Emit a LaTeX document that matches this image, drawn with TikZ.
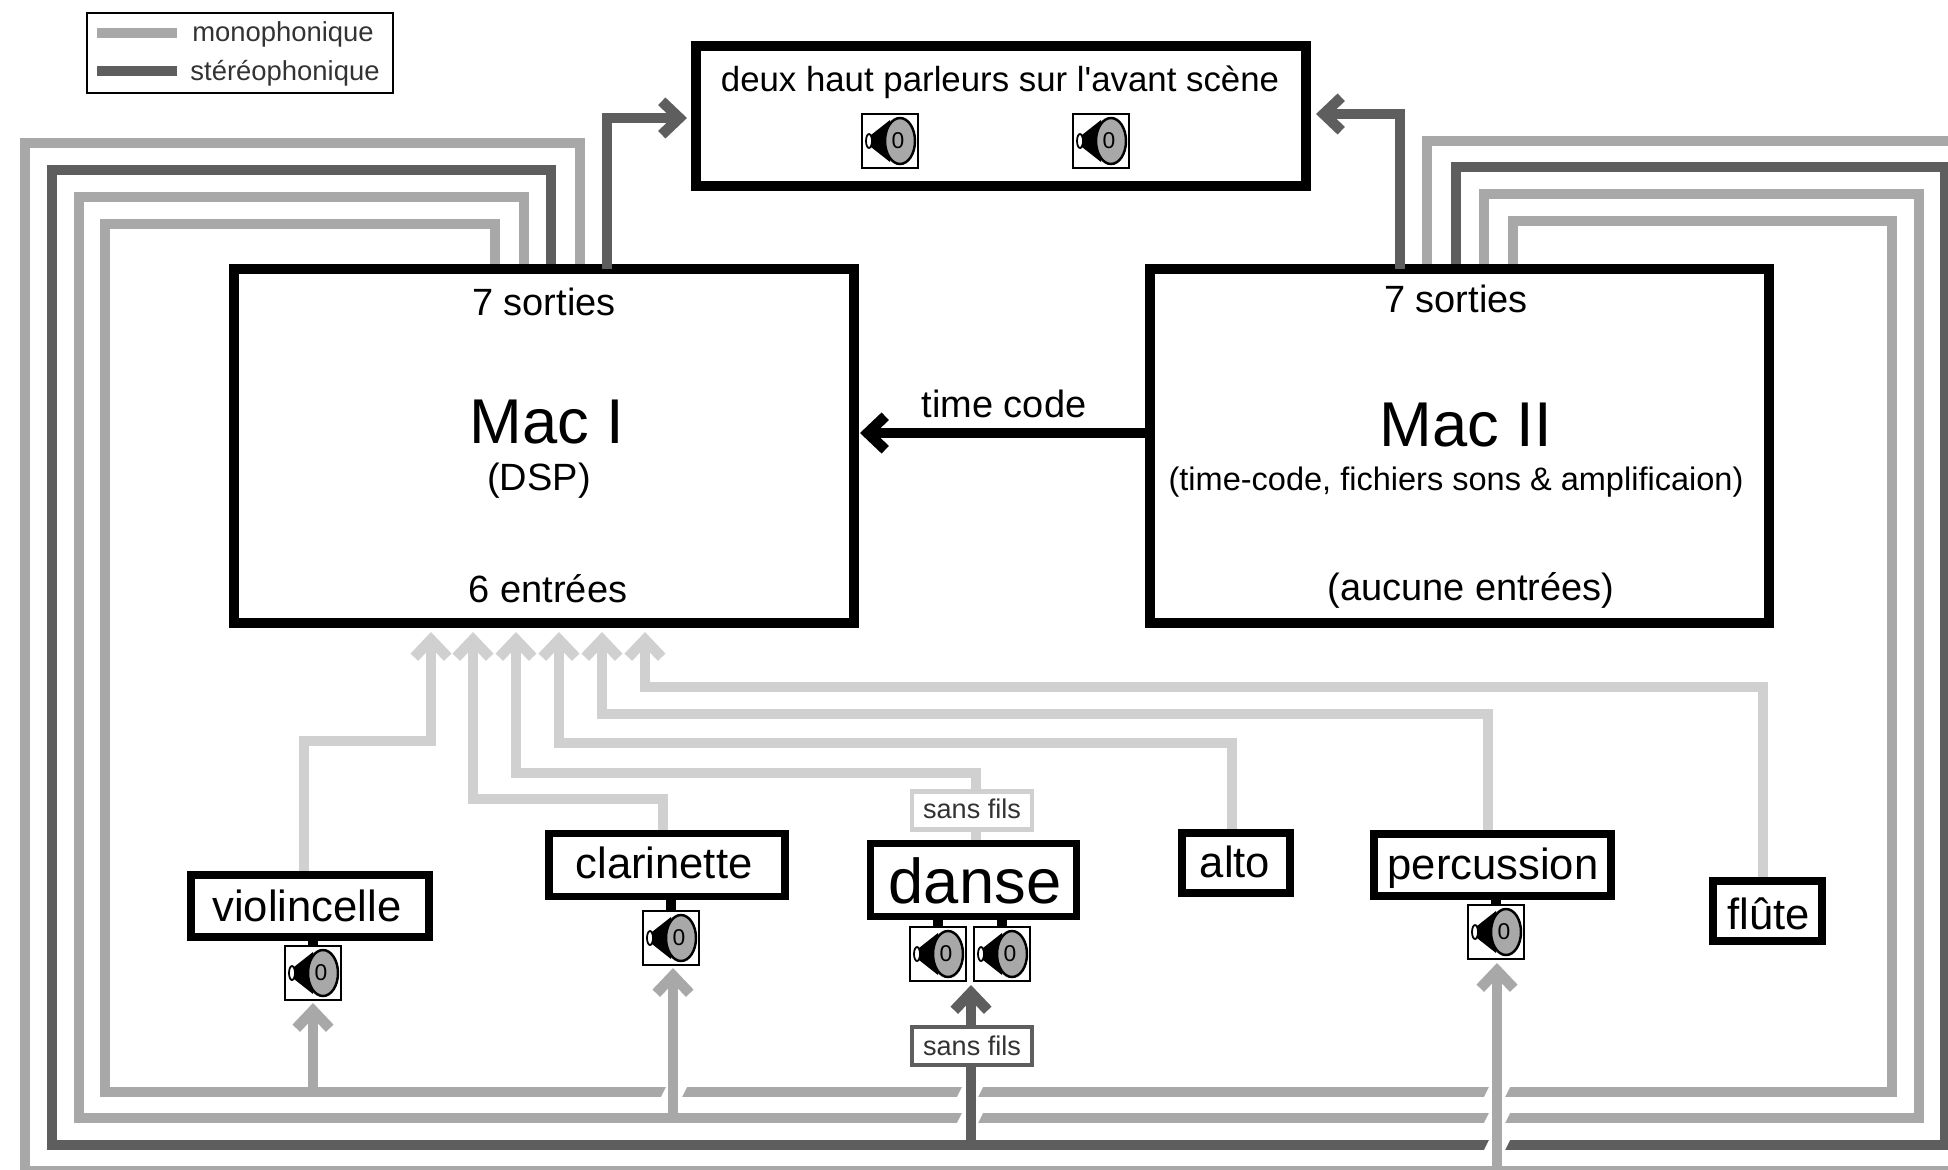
\documentclass[tikz,border=0pt]{standalone}
\usepackage{fontspec}
\setmainfont{Liberation Sans}
\usetikzlibrary{arrows.meta}

\definecolor{gmono}{HTML}{A8A8A8}
\definecolor{gstereo}{HTML}{5E5E5E}
\definecolor{gclair}{HTML}{D0D0D0}
\def\px{0.2845pt}

% haut parleur : nom, x, y
\newcommand{\hp}[3]{
  \node[hpbox] (#1) at (#2,#3) {};
  \begin{scope}[shift={(#2,#3)}]
    \draw[line width=0.5pt, fill=white] (-21,0) ellipse (3 and 7);
    \fill[black] (-19,-6) -- (-19,6) -- (0,21) -- (0,-21) -- cycle;
    \draw[line width=0.7pt, fill=gmono] (10,0) ellipse (15 and 23);
    \node[hpzero] at (8,0) {0};
  \end{scope}
}
% coupure d'un fil horizontal
\newcommand{\coupe}[2]{
  \fill[white] (#1-14,#2+7) -- (#1+7,#2+7) -- (#1+14,#2-7) -- (#1-7,#2-7) -- cycle;
}

\begin{document}
\begin{tikzpicture}[
  x=0.01cm, y=-0.01cm,
  machine/.style 2 args={rectangle, draw, fill=white, line width=2.85pt, inner sep=0pt,
                minimum width=#1*\px, minimum height=#2*\px},
  source/.style 2 args={rectangle, draw, fill=white, line width=2.2pt, inner sep=0pt,
                minimum width=#1*\px, minimum height=#2*\px},
  hpbox/.style={rectangle, draw, fill=white, line width=0.7pt, inner sep=0pt,
                minimum width=56*\px, minimum height=54*\px},
  hpzero/.style={font=\fontsize{6.5}{6.5}\selectfont, inner sep=0pt},
  wifi/.style={rectangle, draw=#1, fill=white, line width=1.2pt, inner sep=0pt,
                minimum width=120*\px, minimum height=38*\px},
  txt/.style={font=\fontsize{#1}{#1}\selectfont, inner sep=0pt},
  txt/.default={10.8},
  mono/.style={color=gmono, line width=3pt},
  stereo/.style={color=gstereo, line width=3pt},
  clair/.style={color=gclair, line width=3pt},
  noir/.style={color=black, line width=3pt},
  fleche/.style={-{Straight Barb[length=5pt, width=9.5pt]}}
]
  \clip (0,0) rectangle (1948,1169);

  % Ports des machines
  \coordinate (so1) at (580,269);
  \coordinate (so2) at (551,269);
  \coordinate (so3) at (524,269);
  \coordinate (so4) at (495,269);
  \coordinate (so5) at (607,269);
  \coordinate (st1) at (1427,269);
  \coordinate (st2) at (1456,269);
  \coordinate (st3) at (1484,269);
  \coordinate (st4) at (1513,269);
  \coordinate (st5) at (1400,269);
  \coordinate (ent1) at (431,632);
  \coordinate (ent2) at (473,632);
  \coordinate (ent3) at (516,632);
  \coordinate (ent4) at (559,632);
  \coordinate (ent5) at (602,632);
  \coordinate (ent6) at (645,632);

  % Boucles de sortie
  \draw[mono] (so1) |- (25,143) |- (1960,1171) |- (1427,141) -- (st1);
  \draw[stereo] (so2) |- (52,170) |- (1945,1145) |- (1456,167) -- (st2);
  \draw[mono] (so3) |- (79,197) |- (1919,1118) |- (1484,194) -- (st3);
  \draw[mono] (so4) |- (105,224) |- (1892,1092) |- (1513,221) -- (st4);
  \coupe{674}{1092}
  \coupe{970}{1092}
  \coupe{970}{1118}
  \coupe{1497}{1092}
  \coupe{1497}{1118}
  \coupe{1497}{1145}

  % Machines
  \node[machine={610}{139}] (avant) at (1001,116) {};
  \node[machine={620}{354}] (mac1) at (544,446) {};
  \node[machine={619}{354}] (mac2) at (1459.5,446) {};

  \draw[stereo, fleche] (so5) |- (687,118);
  \draw[stereo, fleche] (st5) |- (1316,114);
  \draw[noir, fleche] (mac2.west |- 0,433) -- (860,433);

  % Legende
  \node[rectangle, draw, line width=0.7pt, inner sep=0pt, minimum width=306*\px, minimum height=80*\px] (legende) at (240,53) {};
  \coordinate (lm1) at (97,33);
  \coordinate (lm2) at (177,33);
  \coordinate (ls1) at (97,71);
  \coordinate (ls2) at (177,71);
  \draw[mono] (lm1) -- (lm2);
  \draw[stereo] (ls1) -- (ls2);
  \node[txt=7.8, text=black!80] (tmono) at (283,34) {monophonique};
  \node[txt=7.8, text=black!80] (tster) at (285,73) {stéréophonique};

  % Textes des machines
  \node[txt=9.9] (tavant) at (1000,82) {deux haut parleurs sur l\textquotesingle avant scène};
  \node[txt] (tso1) at (544,302) {7 sorties};
  \node[txt=18] (tmac1) at (547,422) {Mac I};
  \node[txt] (tdsp) at (539,481) {(DSP)};
  \node[txt] (tent) at (548,589) {6 entrées};
  \node[txt] (tso2) at (1456,299) {7 sorties};
  \node[txt=18] (tmac2) at (1466,425) {Mac II};
  \node[txt=9.25] (tamp) at (1456,482) {(time-code, fichiers sons \& amplificaion)};
  \node[txt] (taucune) at (1471,590) {(aucune entrées)};
  \node[txt] (ttime) at (1004,404) {time code};

  % Haut parleurs
  \hp{hpa}{890}{141}
  \hp{hpb}{1101}{141}
  \hp{hpv}{313}{973}
  \hp{hpc}{671}{938}
  \hp{hpd}{938}{954}
  \hp{hpe}{1002}{954}
  \hp{hpp}{1496}{932}

  % Sources
  \coordinate (bv) at (304,872);
  \coordinate (bc) at (663,830);
  \coordinate (bd) at (976,840);
  \coordinate (ba) at (1232,829);
  \coordinate (bp) at (1488,830);
  \coordinate (bf) at (1763,877);
  \draw[clair, fleche] (bv) |- (431,741) -- (ent1);
  \draw[clair, fleche] (bc) |- (473,799) -- (ent2);
  \draw[clair, fleche] (bd) |- (516,773) -- (ent3);
  \draw[clair, fleche] (ba) |- (559,743) -- (ent4);
  \draw[clair, fleche] (bp) |- (602,714) -- (ent5);
  \draw[clair, fleche] (bf) |- (645,687) -- (ent6);

  \node[source={238}{62}] (violon) at (310,906) {};
  \node[source={236}{63}] (clar) at (667,865) {};
  \node[source={206}{73}] (danse) at (973.5,880) {};
  \node[source={108}{60}] (alto) at (1236,863) {};
  \node[source={237}{62}] (perc) at (1492.5,865) {};
  \node[source={109}{60}] (flute) at (1767.5,911) {};
  \node[txt=12.4] (tviolon) at (307,906) {violincelle};
  \node[txt=12.4] (tclar) at (664,863) {clarinette};
  \node[txt=18] (tdanse) at (975,881) {danse};
  \node[txt=12.4] (talto) at (1235,862) {alto};
  \node[txt=12.4] (tperc) at (1493,868) {percussion};
  \node[txt=12.4] (tflute) at (1769,914) {flûte};

  \draw[noir] (hpv.north) -- (hpv.north |- violon.south);
  \draw[noir] (hpc.north) -- (hpc.north |- clar.south);
  \draw[noir] (hpd.north) -- (hpd.north |- danse.south);
  \draw[noir] (hpe.north) -- (hpe.north |- danse.south);
  \draw[noir] (hpp.north) -- (hpp.north |- perc.south);

  % Retours vers les haut parleurs
  \coordinate (rv) at (313,1092);
  \coordinate (rc) at (673,1118);
  \coordinate (rd) at (971,1145);
  \coordinate (rp) at (1497,1171);
  \coordinate (tv) at (313,1003);
  \coordinate (tc) at (673,968);
  \coordinate (td) at (971,985);
  \coordinate (tp) at (1497,963);
  \draw[mono, fleche] (rv) -- (tv);
  \draw[mono, fleche] (rc) -- (tc);
  \draw[stereo, fleche] (rd) -- (td);
  \draw[mono, fleche] (rp) -- (tp);

  \node[wifi=gclair] (wifi1) at (972,810.5) {};
  \node[wifi=gstereo] (wifi2) at (972,1046) {};
  \node[txt=7.7, text=black!80] (twifi1) at (972,809) {sans fils};
  \node[txt=7.7, text=black!80] (twifi2) at (972,1046) {sans fils};
\end{tikzpicture}
\end{document}
